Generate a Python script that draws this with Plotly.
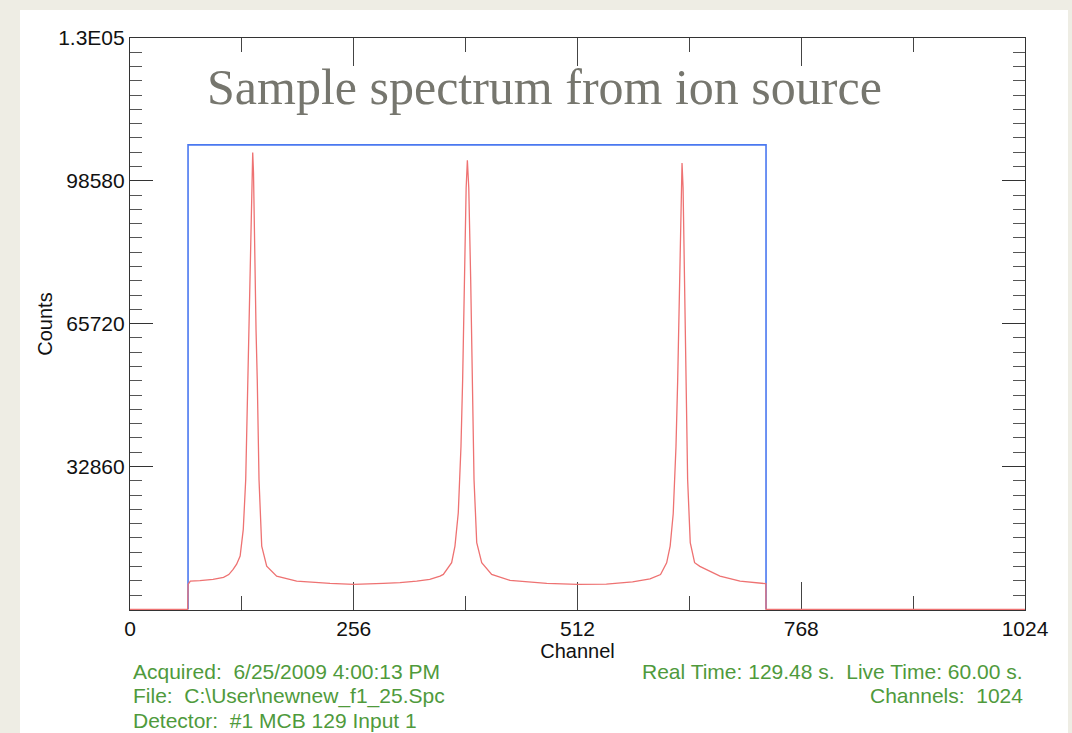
import plotly.graph_objects as go

# ---- data ----
spec_channel = [0, 66, 66.5, 69, 80, 95, 107, 113, 118, 122, 126, 129.6, 132.4, 134.7, 136.2, 138.1,
                139.5, 140.4, 141.3, 142.2, 144.2, 145.6, 147.6, 150.7, 156.4, 167.8, 190.7, 228.8,
                256, 289.8, 308.9, 328, 343, 354.7, 358.5, 368, 371.8, 375.6, 378.7, 380.6, 382.5,
                384.6, 386.0, 387.6, 389.8, 392.1, 393.6, 396.7, 402.4, 413.8, 434.8, 476.8, 512,
                545, 575, 595, 607, 614, 618, 621.5, 624.7, 626.6, 628.6, 630.6, 631.6, 632.8, 634.5,
                636.5, 638, 641, 646, 652, 675, 698, 724, 727.5, 727.7, 1024]
spec_counts = [0, 0, 5750, 6500, 6600, 6900, 7350, 8000, 9190, 10400, 12250, 18380, 29870, 52850,
               64340, 87320, 100500, 105080, 100500, 87320, 64340, 52850, 29870, 14550, 9950, 7650,
               6500, 5975, 5745, 5975, 6130, 6500, 6900, 7650, 8040, 10730, 14550, 22220, 37520,
               52850, 75830, 97000, 103300, 97000, 75830, 52850, 29870, 15330, 10730, 8040, 6660,
               5975, 5745, 5800, 6300, 7000, 8000, 10700, 14550, 22000, 37500, 52500, 75500, 97000,
               102700, 97000, 75500, 52500, 29870, 15330, 10730, 9880, 7650, 6500, 5975, 5900, 0, 0]

roi_channel = [66.4, 66.4, 727.7, 727.7]
roi_counts = [0, 106850, 106850, 0]

y_tickvals = [32860, 65720, 98580, 131440]
y_ticktext = ["32860", "65720", "98580", "1.3E05"]
x_tickvals = [0, 256, 512, 768, 1024]
x_ticktext = ["0", "256", "512", "768", "1024"]

title_text = "Sample spectrum from ion source"
info_left = ["Acquired:  6/25/2009 4:00:13 PM",
             "File:  C:\\User\\newnew_f1_25.Spc",
             "Detector:  #1 MCB 129 Input 1"]
info_right = ["Real Time: 129.48 s.  Live Time: 60.00 s.",
              "Channels:  1024"]

# ---- figure ----
W, H = 1072, 733
L, R, T, B = 130, 47, 38, 123
pw, ph = W - L - R, H - T - B

def px(x):
    return (x - L) / pw

def py(y):
    return (H - B - y) / ph

fig = go.Figure()
fig.add_trace(go.Scatter(x=roi_channel, y=roi_counts, mode="lines",
                         line=dict(color="#4a78f0", width=1.6), hoverinfo="skip",
                         showlegend=False, cliponaxis=False))
fig.add_trace(go.Scatter(x=spec_channel, y=spec_counts, mode="lines",
                         line=dict(color="#ee7272", width=1.3), showlegend=False,
                         cliponaxis=False))

axis_font = dict(family="Liberation Sans, Arial, sans-serif", size=21, color="#111")
title_font = dict(family="Liberation Sans, Arial, sans-serif", size=20, color="#111")

fig.update_xaxes(range=[0, 1024], tickmode="array", tickvals=x_tickvals, ticktext=x_ticktext,
                 ticks="inside", ticklen=28, tickwidth=1.2, tickcolor="#444",
                 minor=dict(tickmode="linear", tick0=0, dtick=128, ticks="inside",
                            ticklen=14, tickwidth=1.2, tickcolor="#444"),
                 showline=True, linecolor="#333", linewidth=1.2, mirror="allticks",
                 showgrid=False, zeroline=False, tickfont=axis_font, layer="below traces",
                 title=dict(text="Channel", font=title_font, standoff=0))
fig.update_yaxes(range=[-150, 131440], tickmode="array", tickvals=y_tickvals, ticktext=y_ticktext,
                 ticks="inside", ticklen=23, tickwidth=1.2, tickcolor="#333",
                 minor=dict(tickmode="linear", tick0=0, dtick=3286, ticks="inside",
                            ticklen=12, tickwidth=1.2, tickcolor="#555"),
                 showline=True, linecolor="#333", linewidth=1.2, mirror="allticks",
                 showgrid=False, zeroline=False, tickfont=axis_font, layer="below traces",
                 title=dict(text="Counts", font=title_font, standoff=0))

fig.add_shape(type="rect", xref="paper", yref="paper", layer="below",
              x0=px(20), x1=px(1068), y0=py(760), y1=py(10),
              fillcolor="white", line=dict(width=0))

fig.add_annotation(text=title_text, xref="paper", yref="paper", x=px(544), y=py(87),
                   xanchor="center", yanchor="middle", showarrow=False,
                   font=dict(family="Liberation Serif, Times New Roman, serif", size=50,
                             color="#76766e"))

green = "#4f9a3c"
info_font = dict(family="Liberation Sans, Arial, sans-serif", size=21, color=green)
for i, t in enumerate(info_left):
    fig.add_annotation(text=t, xref="paper", yref="paper", x=px(131), y=py(671 + 24.5 * i),
                       xanchor="left", yanchor="middle", showarrow=False, font=info_font)
for i, t in enumerate(info_right):
    fig.add_annotation(text=t, xref="paper", yref="paper", x=px(1025), y=py(671 + 24.5 * i),
                       xanchor="right", yanchor="middle", showarrow=False, font=info_font)

fig.update_layout(width=W, height=H, margin=dict(l=L, r=R, t=T, b=B, autoexpand=False),
                  paper_bgcolor="#eeede4", plot_bgcolor="white", showlegend=False)

fig.write_html("out.html", config={"displayModeBar": False},
               post_script="document.body.style.margin='0';document.body.style.overflow='hidden';"
                           "document.body.style.background='#eeede4';")
